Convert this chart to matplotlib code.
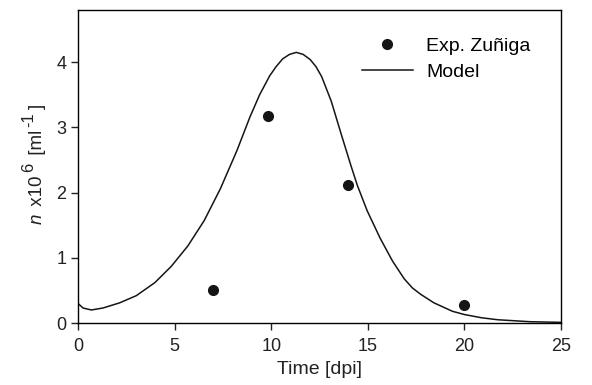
import matplotlib
matplotlib.use("Agg")
import matplotlib.pyplot as plt

# Experimental data (Zuniga)
exp_t = [7.0, 9.81, 14.0, 20.0]
exp_n = [0.50, 3.18, 2.11, 0.27]

# Model curve
model_t = [0.0, 0.26, 0.69, 1.29, 2.16, 3.02, 3.98, 4.83, 5.68, 6.53,
           7.37, 8.22, 8.9, 9.4, 9.92, 10.25, 10.59, 10.95, 11.30, 11.65,
           12.02, 12.32, 12.61, 13.11, 13.62, 14.12, 14.46, 14.97, 15.64,
           16.28, 16.88, 17.3, 17.74, 18.42, 19.38, 20.0, 20.9, 21.73, 23.4, 25.0]
model_n = [0.30, 0.23, 0.20, 0.23, 0.31, 0.42, 0.62, 0.87, 1.18, 1.57,
           2.06, 2.64, 3.16, 3.50, 3.79, 3.93, 4.05, 4.12, 4.15, 4.12,
           4.04, 3.93, 3.78, 3.40, 2.90, 2.42, 2.11, 1.72, 1.30,
           0.95, 0.68, 0.54, 0.44, 0.31, 0.18, 0.13, 0.08, 0.05, 0.02, 0.01]

plt.rcParams["font.family"] = ["Liberation Sans", "DejaVu Sans"]

txt = "#222222"

fig = plt.figure(figsize=(5.92, 3.85), dpi=100)
ax = fig.add_axes([0.1318, 0.161, 0.8158, 0.813])

ax.plot(exp_t, exp_n, "o", color="#151515", ms=7, label="Exp. Zuñiga")
ax.plot(model_t, model_n, "-", color="#151515", lw=1.1, label="Model")

ax.set_xlim(0, 25)
ax.set_ylim(0, 4.8)
ax.set_xticks([0, 5, 10, 15, 20, 25])
ax.set_yticks([0, 1, 2, 3, 4])
ax.tick_params(direction="out", length=5, width=1, labelsize=13,
               colors=txt, top=False, right=False)
ax.tick_params(axis="x", pad=6)
for s in ax.spines.values():
    s.set_linewidth(1.0)

ax.set_xlabel("Time [dpi]", fontsize=14, color=txt, labelpad=4)

# y label built from pieces so the superscripts stay large (SigmaPlot look)
pieces = [("n", 13.5, 0, "italic"), (" x10", 13.5, 0, "normal"),
          ("6", 12, 8, "normal"), (" [ml", 13.5, 0, "normal"),
          ("-1", 12, 8, "normal"), ("]", 13.5, 0, "normal")]
W, H = fig.get_size_inches() * fig.dpi
r = fig.canvas.get_renderer()
parts = []
for s, size, rise, style in pieces:
    t = fig.text(0, 0, s, fontsize=size, style=style, color=txt, rotation=90,
                 rotation_mode="anchor", ha="left", va="baseline")
    parts.append((t, rise, t.get_window_extent(r).height))
gap = 3
total = sum(p[2] for p in parts) + gap * (len(parts) - 1)
y0 = (385 - 164) - total / 2
for t, rise, L in parts:
    t.set_position(((41.5 - rise) / W, y0 / H))
    y0 += L + gap

ax.legend(loc="upper left", frameon=False, fontsize=14,
          handlelength=2.6, handletextpad=0.7, labelspacing=0.45,
          borderpad=0, borderaxespad=0, bbox_to_anchor=(0.588, 0.914))

fig.savefig("out.png", dpi=100)
